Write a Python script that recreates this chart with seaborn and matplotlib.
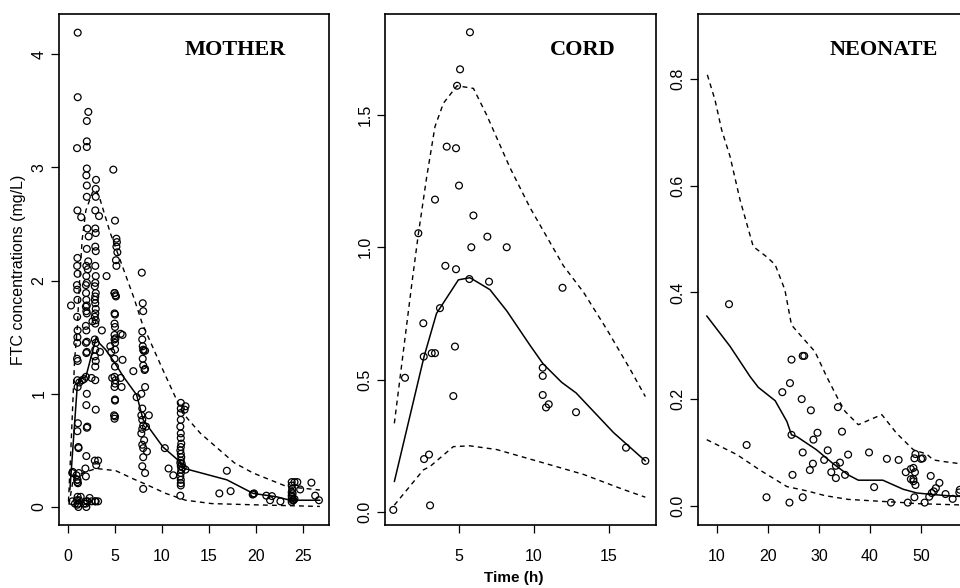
import numpy as np
import matplotlib
matplotlib.use("Agg")
import matplotlib.pyplot as plt
import seaborn as sns

# ---------------- MOTHER data (time h, FTC mg/L) ----------------
mother_time = [
    # early / bottom cluster
    0.32, 0.45, 0.5, 0.9, 1.0, 1.05, 0.46, 0.74, 0.99, 1.17, 1.35, 1.1, 1.7, 2.06, 2.5, 2.87, 3.2,
    # ~1 h column
    1.03, 1.03, 0.96, 1.0, 1.0, 0.97, 1.02, 0.95, 0.98, 1.0, 0.97, 1.02, 1.0, 0.98, 0.96, 1.03,
    1.0, 1.02, 1.05, 1.0, 1.1, 1.12, 1.15, 0.98, 1.0, 1.02, 0.95, 1.05, 1.4, 1.2, 1.5, 1.7,
    # ~2 h column
    2.16, 2.0, 2.0, 2.0, 2.0, 1.95, 2.0, 2.0, 2.05, 2.2, 2.0, 2.15, 1.95, 2.1, 1.95, 2.0, 1.9,
    1.92, 1.95, 2.0, 1.9, 1.95, 2.0, 1.9, 1.95, 2.0, 1.9, 2.0, 1.95, 1.9, 2.0, 1.95, 2.05, 2.0,
    1.95, 1.85, 1.9, 2.0, 1.9, 1.95,
    # ~3 h column
    2.98, 2.95, 2.95, 2.9, 2.9, 2.95, 2.9, 2.95, 2.9, 2.95, 2.9, 2.85, 2.95, 2.9, 2.85, 2.9,
    2.95, 2.9, 2.85, 2.95, 2.9, 2.85, 2.95, 2.9, 2.85, 2.95, 2.9, 2.9, 2.95, 2.85, 3.0, 2.95,
    3.3, 2.6, 2.5, 2.3, 3.2, 3.6, 3.4, 4.1, 4.6, 4.5,
    # ~5 h column
    4.82, 5.0, 5.15, 5.2, 5.15, 5.25, 5.1, 5.15, 4.95, 5.1, 4.95, 5.05, 4.95, 5.0, 4.95, 5.0,
    4.95, 5.05, 4.95, 5.0, 5.0, 4.95, 5.0, 4.95, 5.05, 5.0, 4.95, 5.0, 5.0, 4.9, 5.0, 4.95,
    5.6, 5.8, 5.8, 5.6, 5.7, 4.7, 6.95,
    # ~8 h column
    7.85, 7.95, 8.0, 7.9, 7.9, 7.95, 8.0, 8.2, 8.05, 7.95, 8.0, 8.15, 8.2, 8.2, 7.8, 7.3,
    7.9, 7.8, 7.9, 8.0, 7.9, 8.3, 7.8, 8.1, 7.9, 8.0, 8.0, 8.4, 7.9, 8.2, 8.0, 8.6,
    10.3, 10.7, 11.2,
    # ~12 h column
    12.0, 12.0, 12.0, 12.0, 11.95, 12.0, 12.0, 12.05, 12.0, 11.95, 12.0, 12.05, 12.0, 11.95,
    12.0, 12.05, 12.0, 11.95, 12.0, 12.0, 12.0, 11.95, 12.5, 12.4, 12.5, 12.1, 12.2,
    # late samples
    16.9, 16.1, 17.3, 19.7, 19.65, 19.8, 21.1, 21.7, 21.5, 22.6,
    23.8, 23.8, 23.85, 23.8, 23.9, 23.8, 23.85, 23.8, 23.9, 23.8, 24.1, 24.4, 24.7, 25.9,
    26.3, 26.7, 24.0, 24.1,
]
mother_conc = [
    1.78, 0.30, 0.31, 0.28, 0.24, 0.21, 0.05, 0.03, 0.02, 0.06, 0.09, 0.0, 0.03, 0.05, 0.05, 0.05, 0.05,
    4.19, 3.62, 3.17, 2.62, 2.20, 2.13, 2.06, 1.96, 1.92, 1.83, 1.68, 1.56, 1.50, 1.45, 1.31, 1.29,
    1.12, 1.06, 0.74, 0.67, 0.53, 0.52, 0.30, 0.24, 0.22, 0.09, 0.06, 0.03, 2.56, 1.10, 1.12, 1.13,
    3.49, 3.41, 3.23, 3.18, 2.99, 2.93, 2.84, 2.74, 2.46, 2.39, 2.28, 2.17, 2.13, 2.10, 2.04, 1.98, 1.96,
    1.89, 1.83, 1.78, 1.77, 1.73, 1.71, 1.60, 1.56, 1.46, 1.45, 1.37, 1.36, 1.15, 1.00, 0.90, 0.71, 0.70,
    0.45, 0.34, 0.27, 0.05, 0.03, 0.0,
    2.89, 2.81, 2.74, 2.62, 2.46, 2.42, 2.30, 2.26, 2.13, 2.04, 1.98, 1.95, 1.89, 1.86, 1.83, 1.80,
    1.75, 1.71, 1.68, 1.65, 1.62, 1.48, 1.45, 1.39, 1.33, 1.29, 1.24, 1.12, 0.86, 0.41, 0.37, 0.05,
    2.57, 1.64, 1.14, 0.08, 0.41, 1.56, 1.37, 2.04, 1.37, 1.42,
    2.98, 2.53, 2.37, 2.34, 2.30, 2.25, 2.18, 2.13, 1.89, 1.86, 1.89, 1.87, 1.71, 1.70, 1.62, 1.59,
    1.52, 1.49, 1.48, 1.45, 1.39, 1.31, 1.24, 1.15, 1.12, 1.09, 1.06, 0.95, 0.94, 0.81, 0.80, 0.78,
    1.53, 1.52, 1.30, 1.14, 1.06, 1.14, 1.20,
    2.07, 1.80, 1.73, 1.55, 1.48, 1.42, 1.39, 1.38, 1.38, 1.31, 1.25, 1.21, 1.22, 1.06, 1.00, 0.97,
    0.87, 0.81, 0.77, 0.72, 0.69, 0.71, 0.65, 0.59, 0.55, 0.52, 0.44, 0.49, 0.36, 0.30, 0.16, 0.81,
    0.52, 0.34, 0.28,
    0.92, 0.87, 0.83, 0.77, 0.71, 0.65, 0.61, 0.56, 0.53, 0.50, 0.47, 0.44, 0.41, 0.39,
    0.36, 0.33, 0.30, 0.27, 0.24, 0.21, 0.19, 0.10, 0.89, 0.86, 0.33, 0.38, 0.35,
    0.32, 0.12, 0.14, 0.116, 0.11, 0.12, 0.10, 0.096, 0.06, 0.05,
    0.22, 0.19, 0.16, 0.13, 0.12, 0.10, 0.09, 0.075, 0.06, 0.045, 0.22, 0.22, 0.155, 0.215,
    0.10, 0.06, 0.06, 0.07,
]
mother_med_t = [0.2, 1.0, 1.3, 1.9, 3.0, 3.3, 4.0, 5.0, 5.9, 7.3, 8.0, 10.1, 11.9, 12.4, 16.9, 19.7, 22.2, 23.6, 26.8]
mother_med_c = [0.15, 1.09, 1.13, 1.15, 1.50, 1.45, 1.39, 1.27, 1.15, 0.99, 0.77, 0.53, 0.40, 0.34, 0.24, 0.12, 0.09, 0.06, 0.06]
mother_hi_t = [0.05, 0.35, 0.7, 1.0, 1.2, 1.5, 1.9, 2.6, 3.0, 3.4, 4.5, 7.0, 7.9, 10.1, 12.2, 14.1, 17.7, 19.7, 23.3, 26.8]
mother_hi_c = [0.05, 0.6, 1.3, 1.6, 1.95, 2.36, 2.62, 2.78, 2.8, 2.72, 2.42, 1.85, 1.62, 1.21, 0.83, 0.65, 0.39, 0.30, 0.18, 0.15]
mother_lo_t = [0.1, 0.6, 1.9, 3.0, 4.1, 5.1, 6.9, 8.3, 10.4, 12.5, 15.3, 19.5, 26.8]
mother_lo_c = [0.02, 0.27, 0.31, 0.34, 0.33, 0.32, 0.25, 0.20, 0.12, 0.06, 0.03, 0.02, 0.005]

# ---------------- CORD data ----------------
cord_time = [5.73, 5.07, 4.87, 4.18, 4.8, 5.0, 3.4, 5.96, 2.29, 6.89, 5.82, 8.18, 4.09, 4.8, 5.69, 7.0,
             11.9, 3.73, 2.62, 2.65, 3.18, 3.4, 4.73, 1.4, 4.62, 10.58, 10.58, 10.58, 10.8, 10.98,
             12.8, 16.13, 17.42, 2.67, 3.0, 3.07, 0.62]
cord_conc = [1.812, 1.672, 1.61, 1.38, 1.374, 1.233, 1.18, 1.12, 1.053, 1.04, 1.0, 1.0, 0.93, 0.917, 0.88, 0.87,
             0.847, 0.77, 0.713, 0.587, 0.60, 0.60, 0.625, 0.507, 0.438, 0.545, 0.514, 0.442, 0.395, 0.407,
             0.377, 0.243, 0.193, 0.20, 0.217, 0.025, 0.008]
cord_med_t = [0.69, 2.67, 3.5, 4.96, 5.73, 7.06, 8.18, 9.73, 10.6, 11.84, 12.8, 15.3, 17.42]
cord_med_c = [0.115, 0.587, 0.75, 0.877, 0.885, 0.84, 0.76, 0.63, 0.56, 0.49, 0.45, 0.30, 0.193]
cord_hi_t = [0.69, 1.85, 2.29, 2.85, 3.4, 3.96, 4.87, 5.96, 6.84, 8.4, 9.73, 11.96, 13.3, 14.85, 16.4, 17.42]
cord_hi_c = [0.335, 0.86, 1.05, 1.267, 1.456, 1.544, 1.61, 1.60, 1.50, 1.30, 1.15, 0.93, 0.83, 0.69, 0.54, 0.436]
cord_lo_t = [0.69, 2.62, 3.07, 4.62, 5.73, 7.51, 10.6, 13.3, 15.96, 17.42]
cord_lo_c = [0.026, 0.159, 0.172, 0.247, 0.25, 0.236, 0.186, 0.142, 0.085, 0.056]

# ---------------- NEONATE data ----------------
neo_time = [12.35, 15.8, 19.7, 24.2, 24.6, 24.3, 22.8, 24.6, 24.8, 26.6, 26.8, 27.1, 26.8, 26.8,
            28.4, 28.9, 28.8, 28.2, 29.7, 31.7, 31.0, 32.4, 33.3, 33.3, 33.7, 34.1, 34.5, 35.1, 35.7,
            39.8, 40.8, 43.3, 44.1, 45.6, 47.0, 48.0, 48.5, 48.8, 48.7, 48.9, 50.0, 50.3, 48.0, 48.5,
            48.5, 48.9, 48.7, 47.4, 50.7, 51.9, 51.6, 52.1, 52.5, 52.9, 53.6, 54.8, 56.2, 57.5, 57.6]
neo_conc = [0.378, 0.114, 0.016, 0.006, 0.274, 0.23, 0.213, 0.133, 0.058, 0.20, 0.281, 0.281, 0.10, 0.016,
            0.179, 0.124, 0.079, 0.067, 0.137, 0.104, 0.086, 0.063, 0.075, 0.052, 0.185, 0.081, 0.139, 0.058, 0.096,
            0.10, 0.035, 0.088, 0.006, 0.086, 0.063, 0.069, 0.071, 0.063, 0.089, 0.097, 0.088, 0.089, 0.05, 0.05,
            0.046, 0.039, 0.016, 0.006, 0.006, 0.056, 0.017, 0.024, 0.027, 0.033, 0.043, 0.022, 0.013, 0.025, 0.03]
neo_med_t = [7.98, 12.55, 16.5, 18.1, 21.4, 23.7, 24.6, 25.6, 29.5, 32.5, 35.7, 37.7, 42.5, 46.5, 49.2, 52.4, 56.5, 60.0]
neo_med_c = [0.356, 0.299, 0.242, 0.222, 0.197, 0.158, 0.133, 0.13, 0.105, 0.081, 0.058, 0.048, 0.048, 0.031, 0.024, 0.021, 0.018, 0.017]
neo_hi_t = [8.1, 9.6, 10.9, 12.55, 14.5, 17.1, 19.7, 21.4, 23.3, 24.6, 26.6, 29.2, 31.5, 33.8, 35.1, 37.7,
            42.3, 45.2, 48.5, 51.1, 52.4, 54.4, 60.0]
neo_hi_c = [0.808, 0.761, 0.705, 0.655, 0.574, 0.486, 0.467, 0.452, 0.405, 0.339, 0.317, 0.289, 0.242, 0.199,
            0.177, 0.152, 0.171, 0.136, 0.105, 0.097, 0.086, 0.083, 0.076]
neo_lo_t = [7.98, 13.9, 18.4, 23.7, 27.6, 31.2, 35.7, 41.0, 46.5, 49.2, 60.0]
neo_lo_c = [0.124, 0.096, 0.067, 0.036, 0.028, 0.019, 0.012, 0.009, 0.006, 0.004, 0.001]

# ---------------- drawing ----------------
sns.set_style("ticks")
plt.rcParams["font.family"] = ["Liberation Sans", "DejaVu Sans"]
plt.rcParams["text.color"] = "black"

fig = plt.figure(figsize=(9.6, 5.88), dpi=100)

panels = [
    dict(rect=[59 / 960, 63 / 588, 270 / 960, 511 / 588], title="MOTHER", tx=0.652,
         xlim=(-0.96, 27.77), ylim=(-0.159, 4.355), xticks=[0, 5, 10, 15, 20, 25],
         yticks=[0, 1, 2, 3, 4], yfmt="{:.0f}",
         obs=(mother_time, mother_conc), med=(mother_med_t, mother_med_c),
         hi=(mother_hi_t, mother_hi_c), lo=(mother_lo_t, mother_lo_c)),
    dict(rect=[385 / 960, 63 / 588, 271 / 960, 511 / 588], title="CORD", tx=0.73,
         xlim=(0.067, 18.13), ylim=(-0.049, 1.881), xticks=[5, 10, 15],
         yticks=[0.0, 0.5, 1.0, 1.5], yfmt="{:.1f}",
         obs=(cord_time, cord_conc), med=(cord_med_t, cord_med_c),
         hi=(cord_hi_t, cord_hi_c), lo=(cord_lo_t, cord_lo_c)),
    dict(rect=[698 / 960, 63 / 588, 271 / 960, 511 / 588], title="NEONATE", tx=0.686,
         xlim=(6.27, 59.4), ylim=(-0.036, 0.922), xticks=[10, 20, 30, 40, 50],
         yticks=[0.0, 0.2, 0.4, 0.6, 0.8], yfmt="{:.1f}",
         obs=(neo_time, neo_conc), med=(neo_med_t, neo_med_c),
         hi=(neo_hi_t, neo_hi_c), lo=(neo_lo_t, neo_lo_c)),
]

for p in panels:
    ax = fig.add_axes(p["rect"])
    sns.scatterplot(x=p["obs"][0], y=p["obs"][1], ax=ax, marker="o", s=24,
                    facecolors="none", edgecolor="black", linewidth=0.9, zorder=3)
    sns.lineplot(x=p["med"][0], y=p["med"][1], ax=ax, sort=False, estimator=None,
                 color="black", linewidth=1.1)
    for key in ("hi", "lo"):
        sns.lineplot(x=p[key][0], y=p[key][1], ax=ax, sort=False, estimator=None,
                     color="black", linewidth=1.0)
        ax.lines[-1].set_dashes((3.5, 3))

    ax.set_xlim(*p["xlim"])
    ax.set_ylim(*p["ylim"])
    ax.set_xticks(p["xticks"])
    ax.set_xticklabels([str(v) for v in p["xticks"]])
    ax.set_yticks(p["yticks"])
    ax.set_yticklabels([p["yfmt"].format(v) for v in p["yticks"]], rotation=90, va="center")
    ax.tick_params(axis="both", length=6, width=0.9, color="black", labelsize=11.5,
                   labelcolor="black")
    ax.tick_params(axis="x", pad=11)
    ax.tick_params(axis="y", pad=3)
    for sp in ax.spines.values():
        sp.set_visible(True)
        sp.set_linewidth(1.2)
        sp.set_color("black")
    ax.set_xlabel("")
    ax.set_ylabel("")
    ax.text(p["tx"], 0.93, p["title"], transform=ax.transAxes, ha="center", va="center",
            fontsize=16, fontweight="bold", color="black",
            family=["Liberation Serif", "DejaVu Serif"])
    p["ax"] = ax

panels[0]["ax"].set_ylabel("FTC concentrations (mg/L)", fontsize=11.5, labelpad=4, color="black")
fig.text(514 / 960, 1 - 578 / 588, "Time (h)", ha="center", va="center",
         fontsize=11, fontweight="bold", color="black")

fig.savefig("out.png", dpi=100)
